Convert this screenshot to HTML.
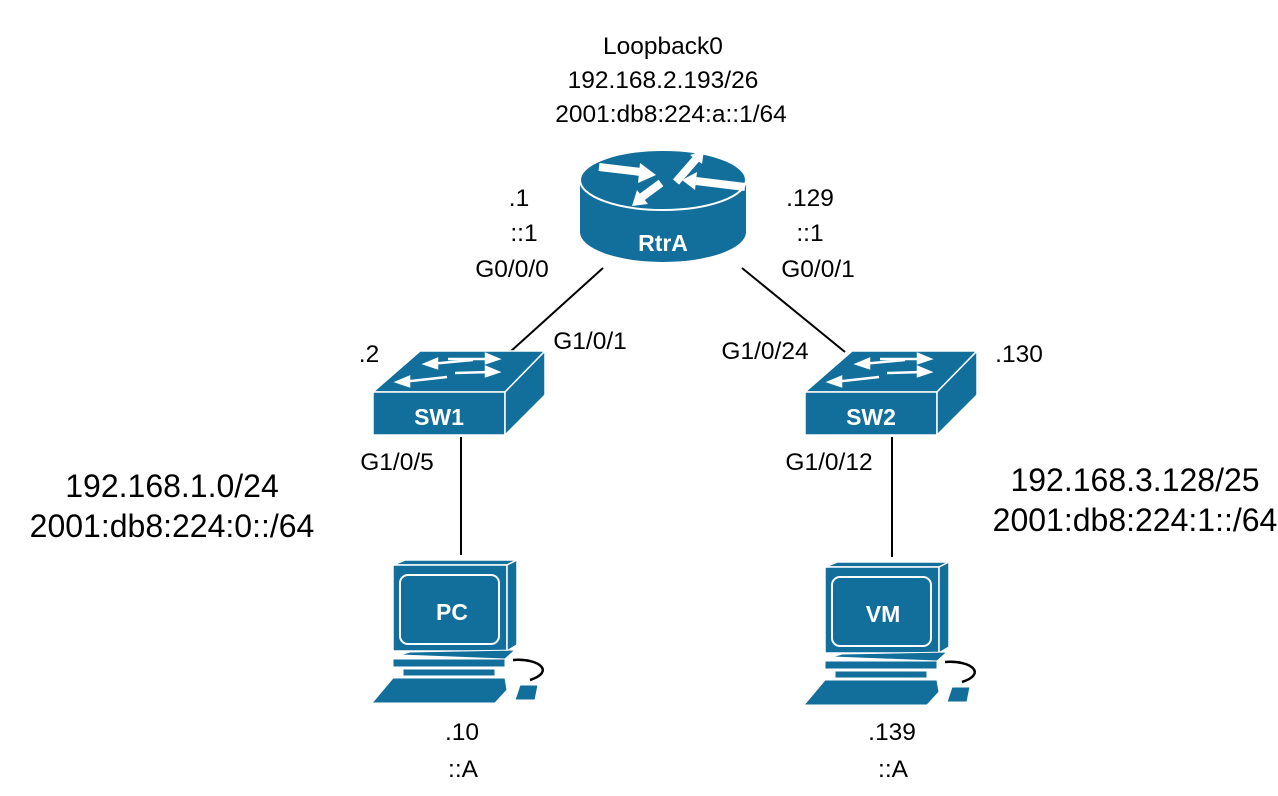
<!DOCTYPE html>
<html><head><style>
html,body{margin:0;padding:0;background:#fff}
svg{display:block}
text{font-family:"Liberation Sans",Arial,sans-serif;fill:#000}
.l{font-size:24.5px}
.b{font-size:32px}
.w{fill:#fff;font-weight:bold}
</style></head><body>
<svg width="1278" height="796" viewBox="0 0 1278 796">
<defs>
<g id="sw">
<polygon points="373,392 420,351 545,351 505,392" fill="#126e9a" stroke="#fff" stroke-width="1.5"/>
<rect x="373" y="392" width="132" height="43" fill="#126e9a" stroke="#fff" stroke-width="1.5"/>
<polygon points="505,392 545,351 545,395 505,435" fill="#126e9a" stroke="#fff" stroke-width="1.5"/>
<g stroke="#fff" stroke-width="2.5" fill="#fff">
<line x1="473" y1="360" x2="430" y2="364"/><polygon points="425,364 437,359 437,368"/>
<line x1="448" y1="359" x2="490" y2="359"/><polygon points="498,359 486,354 486,363"/>
<line x1="447" y1="377" x2="402" y2="382"/><polygon points="397,382 409,377 409,386"/>
<line x1="455" y1="373" x2="490" y2="372"/><polygon points="498,372 486,367 486,376"/>
</g>
</g>
<g id="pc">
<polygon points="393,565 405,560 517,560 507,565" fill="#126e9a" stroke="#fff" stroke-width="1.5"/>
<rect x="393" y="565" width="114" height="86" fill="#126e9a" stroke="#fff" stroke-width="1.5"/>
<polygon points="507,565 517,560 517,645 507,651" fill="#126e9a" stroke="#fff" stroke-width="1.5"/>
<rect x="400" y="575" width="99" height="69" rx="8" fill="none" stroke="#fff" stroke-width="2"/>
<polygon points="400,655 410,652 515,650 505,659" fill="#126e9a" stroke="#fff" stroke-width="1"/>
<rect x="393" y="659" width="112" height="8" fill="#126e9a" stroke="#fff" stroke-width="1"/>
<rect x="403" y="669" width="92" height="7" fill="#126e9a" stroke="#fff" stroke-width="1"/>
<polygon points="393,678 505,678 507,690 495,703 372,703" fill="#126e9a" stroke="#fff" stroke-width="1"/>
<polygon points="520,685 538,685 535,700 515,700" fill="#126e9a" stroke="#fff" stroke-width="1"/>
<path d="M513,660 C540,658 555,672 530,680" fill="none" stroke="#000" stroke-width="2.5"/>
</g>
</defs>

<g stroke="#000" stroke-width="2">
<line x1="603" y1="268" x2="510" y2="352"/>
<line x1="742" y1="268" x2="845" y2="352"/>
<line x1="461" y1="437" x2="461" y2="555"/>
<line x1="892" y1="437" x2="892" y2="557"/>
</g>

<path d="M580,180 L580,232 A83,30 0 0 0 746,232 L746,180 Z" fill="#126e9a"/>
<ellipse cx="663" cy="180" rx="83" ry="30" fill="#126e9a" stroke="#fff" stroke-width="2"/>
<g fill="#fff" stroke="#fff">
<line x1="599" y1="167" x2="641" y2="172" stroke-width="8"/><polygon points="656,175 640,163 638,183" stroke="none"/>
<line x1="676" y1="182" x2="696" y2="159" stroke-width="8"/><polygon points="704,150 702,164 690,155" stroke="none"/>
<line x1="745" y1="187" x2="696" y2="181" stroke-width="8"/><polygon points="682,180 697,172 695,190" stroke="none"/>
<line x1="661" y1="183" x2="642" y2="197" stroke-width="8"/><polygon points="632,206 648,204 637,190" stroke="none"/>
</g>
<text x="663" y="251" class="w" font-size="23" text-anchor="middle">RtrA</text>

<use href="#sw"/>
<text x="439" y="425" class="w" font-size="23" text-anchor="middle">SW1</text>
<use href="#sw" transform="translate(432,0)"/>
<text x="871" y="425" class="w" font-size="23" text-anchor="middle">SW2</text>

<use href="#pc"/>
<text x="452" y="620" class="w" font-size="23" text-anchor="middle">PC</text>
<use href="#pc" transform="translate(432,2)"/>
<text x="883" y="622" class="w" font-size="23" text-anchor="middle">VM</text>

<g class="l" text-anchor="middle">
<text x="663" y="54">Loopback0</text>
<text x="663" y="88">192.168.2.193/26</text>
<text x="671" y="122">2001:db8:224:a::1/64</text>
<text x="519" y="206">.1</text>
<text x="524" y="241">::1</text>
<text x="512" y="277">G0/0/0</text>
<text x="810" y="206">.129</text>
<text x="810" y="241">::1</text>
<text x="818" y="277">G0/0/1</text>
<text x="590" y="349">G1/0/1</text>
<text x="765" y="359">G1/0/24</text>
<text x="369" y="362">.2</text>
<text x="1019" y="362">.130</text>
<text x="397" y="470">G1/0/5</text>
<text x="829" y="470">G1/0/12</text>
<text x="462" y="740">.10</text>
<text x="463" y="777">::A</text>
<text x="892" y="740">.139</text>
<text x="893" y="777">::A</text>
</g>
<g class="b" text-anchor="middle">
<text x="172" y="497">192.168.1.0/24</text>
<text x="172" y="537">2001:db8:224:0::/64</text>
<text x="1135" y="491">192.168.3.128/25</text>
<text x="1135" y="531">2001:db8:224:1::/64</text>
</g>
</svg>
</body></html>
